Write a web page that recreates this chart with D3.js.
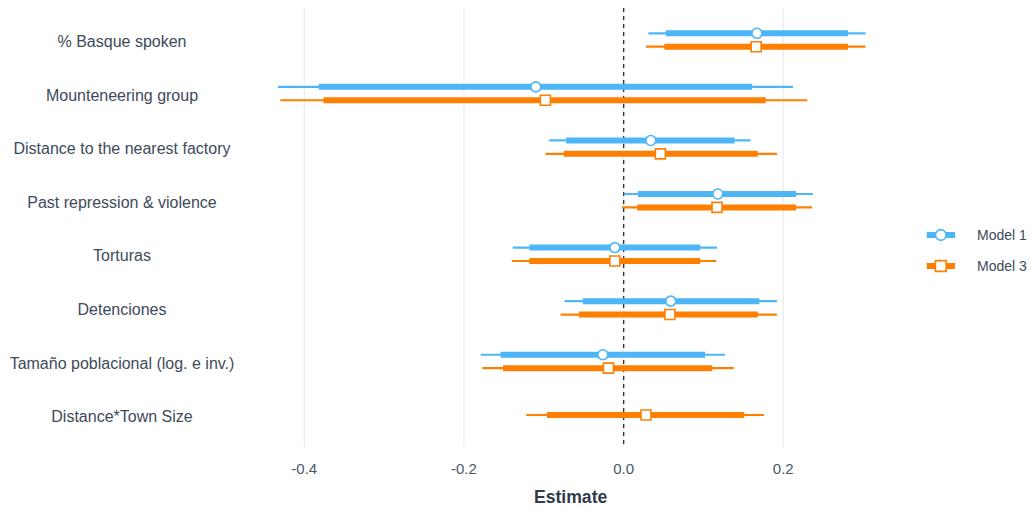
<!DOCTYPE html>
<html>
<head>
<meta charset="utf-8">
<script src="https://cdn.jsdelivr.net/npm/d3@7"></script>
<style>
  html, body { margin: 0; padding: 0; background: #fff; }
  svg { display: block; font-family: "Liberation Sans", Arial, sans-serif; }
</style>
</head>
<body>
<svg id="chart" width="1034" height="510"></svg>
<script>
// Coefficient estimates with 90% (thick) and 95% (thin) intervals
const categories = [
  "% Basque spoken",
  "Mounteneering group",
  "Distance to the nearest factory",
  "Past repression & violence",
  "Torturas",
  "Detenciones",
  "Tamaño poblacional (log. e inv.)",
  "Distance*Town Size"
];
const modelNames = ["Model 1", "Model 3"];

// Model 1 (no interaction term)
const est1   = [0.167, -0.110,  0.034, 0.118, -0.011,  0.059, -0.026, null];
const lo90_1 = [0.053, -0.382, -0.072, 0.018, -0.118, -0.051, -0.154, null];
const hi90_1 = [0.281,  0.161,  0.139, 0.216,  0.096,  0.170,  0.102, null];
const lo95_1 = [0.031, -0.433, -0.093, 0.000, -0.139, -0.074, -0.179, null];
const hi95_1 = [0.303,  0.212,  0.159, 0.237,  0.117,  0.192,  0.127, null];

// Model 3
const est3   = [0.166, -0.098,  0.046,  0.117, -0.011,  0.058, -0.019,  0.028];
const lo90_3 = [0.051, -0.376, -0.075,  0.017, -0.118, -0.056, -0.151, -0.096];
const hi90_3 = [0.281,  0.178,  0.168,  0.216,  0.096,  0.168,  0.111,  0.151];
const lo95_3 = [0.028, -0.430, -0.098, -0.002, -0.140, -0.079, -0.177, -0.122];
const hi95_3 = [0.303,  0.230,  0.192,  0.236,  0.116,  0.192,  0.138,  0.176];

const xTicks = [-0.4, -0.2, 0.0, 0.2];
const xTickLabels = ["-0.4", "-0.2", "0.0", "0.2"];

const colors = { "Model 1": "#4DB6F6", "Model 3": "#FF7F00" };
const textColor = "#3E4A5B";

// Build long-format rows
const rows = [];
[[modelNames[0], est1, lo90_1, hi90_1, lo95_1, hi95_1],
 [modelNames[1], est3, lo90_3, hi90_3, lo95_3, hi95_3]].forEach(([m, e, l9, h9, l5, h5]) => {
  categories.forEach((c, i) => {
    if (e[i] === null) return;
    rows.push({ model: m, term: c, est: e[i], lo90: l9[i], hi90: h9[i], lo95: l5[i], hi95: h5[i] });
  });
});

const svg = d3.select("#chart");

const x = d3.scaleLinear().domain([-0.4, 0.2]).range([304.3, 783.3]);
const y = d3.scalePoint().domain(categories).range([40, 415]);
const plotTop = 8, plotBottom = 447;

// Per-term dodge: offset only when both models are present
const dodge = 6.7;
function yPos(d) {
  const present = rows.filter(r => r.term === d.term).map(r => r.model);
  if (present.length < 2) return y(d.term);
  return y(d.term) + (d.model === modelNames[0] ? -dodge : dodge);
}

// Vertical grid lines
svg.append("g").selectAll("line").data(xTicks).join("line")
  .attr("x1", d => x(d)).attr("x2", d => x(d))
  .attr("y1", plotTop).attr("y2", plotBottom)
  .attr("stroke", "#EBEBEB").attr("stroke-width", 1.2);

// Zero reference line
svg.append("line")
  .attr("x1", x(0)).attr("x2", x(0))
  .attr("y1", plotTop).attr("y2", plotBottom)
  .attr("stroke", "#333").attr("stroke-width", 1.4)
  .attr("stroke-dasharray", "4,4");

const g = svg.append("g");

// 95% intervals (thin)
g.selectAll("line.ci95").data(rows).join("line")
  .attr("class", "ci95")
  .attr("x1", d => x(d.lo95)).attr("x2", d => x(d.hi95))
  .attr("y1", yPos).attr("y2", yPos)
  .attr("stroke", d => colors[d.model]).attr("stroke-width", 2.2);

// 90% intervals (thick)
g.selectAll("line.ci90").data(rows).join("line")
  .attr("class", "ci90")
  .attr("x1", d => x(d.lo90)).attr("x2", d => x(d.hi90))
  .attr("y1", yPos).attr("y2", yPos)
  .attr("stroke", d => colors[d.model]).attr("stroke-width", 6);

// Point estimates
const symbols = { "Model 1": d3.symbolCircle, "Model 3": d3.symbolSquare };
const symSize = { "Model 1": 78, "Model 3": 100 };
g.selectAll("path.pt").data(rows).join("path")
  .attr("class", "pt")
  .attr("transform", d => `translate(${x(d.est)},${yPos(d)})`)
  .attr("d", d => d3.symbol().type(symbols[d.model]).size(symSize[d.model])())
  .attr("fill", "#fff")
  .attr("stroke", d => colors[d.model]).attr("stroke-width", 1.6);

// Row labels
svg.append("g").selectAll("text").data(categories).join("text")
  .attr("x", 122).attr("y", d => y(d) + 1.5)
  .attr("dy", "0.35em")
  .attr("text-anchor", "middle")
  .attr("font-size", 16)
  .attr("fill", textColor)
  .text(d => d);

// x axis tick labels
svg.append("g").selectAll("text").data(xTicks).join("text")
  .attr("x", d => x(d)).attr("y", 469)
  .attr("dy", "0.35em")
  .attr("text-anchor", "middle")
  .attr("font-size", 15)
  .attr("fill", "#4A5666")
  .text((d, i) => xTickLabels[i]);

// x axis title
svg.append("text")
  .attr("x", x(0) - 53).attr("y", 497)
  .attr("dy", "0.35em")
  .attr("text-anchor", "middle")
  .attr("font-size", 17.6)
  .attr("font-weight", "bold")
  .attr("fill", "#2F3B4C")
  .text("Estimate");

// Legend
const legend = svg.append("g").selectAll("g").data(modelNames).join("g")
  .attr("transform", (d, i) => `translate(0,${235 + i * 31})`);
legend.append("line")
  .attr("x1", 926.7).attr("x2", 955).attr("y1", 0).attr("y2", 0)
  .attr("stroke", d => colors[d]).attr("stroke-width", 6);
legend.append("path")
  .attr("transform", "translate(940.8,0)")
  .attr("d", d => d3.symbol().type(symbols[d]).size(symSize[d] * 1.15)())
  .attr("fill", "#fff")
  .attr("stroke", d => colors[d]).attr("stroke-width", 1.6);
legend.append("text")
  .attr("x", 977).attr("y", 0).attr("dy", "0.35em")
  .attr("font-size", 14)
  .attr("fill", textColor)
  .text(d => d);
</script>
</body>
</html>
